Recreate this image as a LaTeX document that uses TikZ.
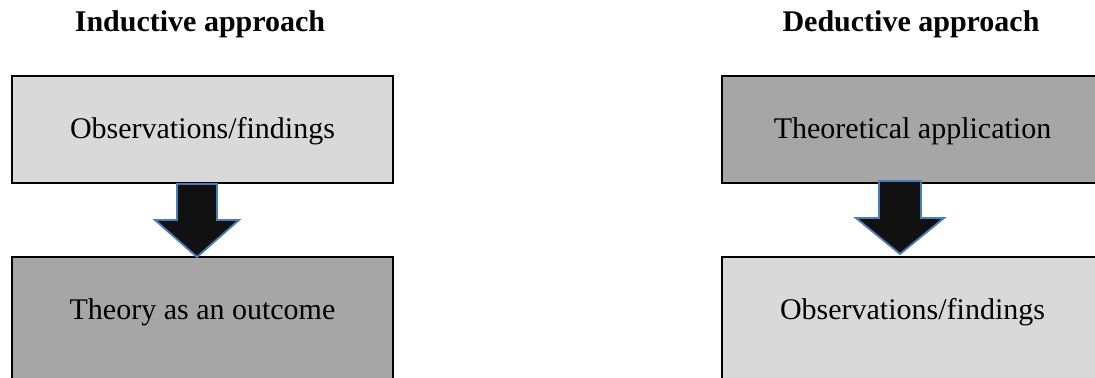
\documentclass[tikz,border=0pt]{standalone}
\usepackage{fontspec}
\setmainfont{Liberation Serif}
\usetikzlibrary{positioning}
\definecolor{boxlight}{RGB}{217,217,217}
\definecolor{boxdark}{RGB}{166,166,166}
\definecolor{arrline}{RGB}{74,126,187}
\definecolor{arrfill}{RGB}{17,17,17}

\begin{document}
\begin{tikzpicture}[
  x=0.4pt, y=-0.4pt,
  every node/.style={font=\fontsize{12}{14}\selectfont},
  title/.style={font=\fontsize{12}{14}\selectfont\bfseries, anchor=base},
  box/.style={draw, line width=0.8pt, minimum width=152.4pt, inner sep=0pt, text height=25.2pt, text depth=17.6pt},
  boxtall/.style={box, text depth=60pt},
  blockarr/.style={draw=arrline, fill=arrfill, line width=0.75pt, line join=miter}]
  \useasboundingbox (0,0) rectangle (1095,378);
  \clip (0,0) rectangle (1095,378);
  % inductive side
  \node[title] (indT) at (200,32) {Inductive approach};
  \node[box, fill=boxlight, anchor=north west] (obsL) at (11,75) {Observations/findings};
  \node[boxtall, fill=boxdark, below=28.8pt of obsL] (theoL) {Theory as an outcome};
  % deductive side
  \node[title] (dedT) at (911,32) {Deductive approach};
  \node[box, fill=boxdark, anchor=north west] (theoR) at (721,75) {Theoretical application};
  \node[boxtall, fill=boxlight, below=28.8pt of theoR] (obsR) {Observations/findings};
  % block arrows
  \coordinate (aL) at (197,184);
  \coordinate (aR) at (900,181);
  \filldraw[blockarr] (aL) +(-20,0) -- +(20,0) -- +(20,36) -- +(42,36) -- +(0,73) -- +(-42,36) -- +(-20,36) -- cycle;
  \filldraw[blockarr] (aR) +(-21,0) -- +(21,0) -- +(21,37) -- +(44,37) -- +(0,73) -- +(-44,37) -- +(-21,37) -- cycle;
\end{tikzpicture}
\end{document}
